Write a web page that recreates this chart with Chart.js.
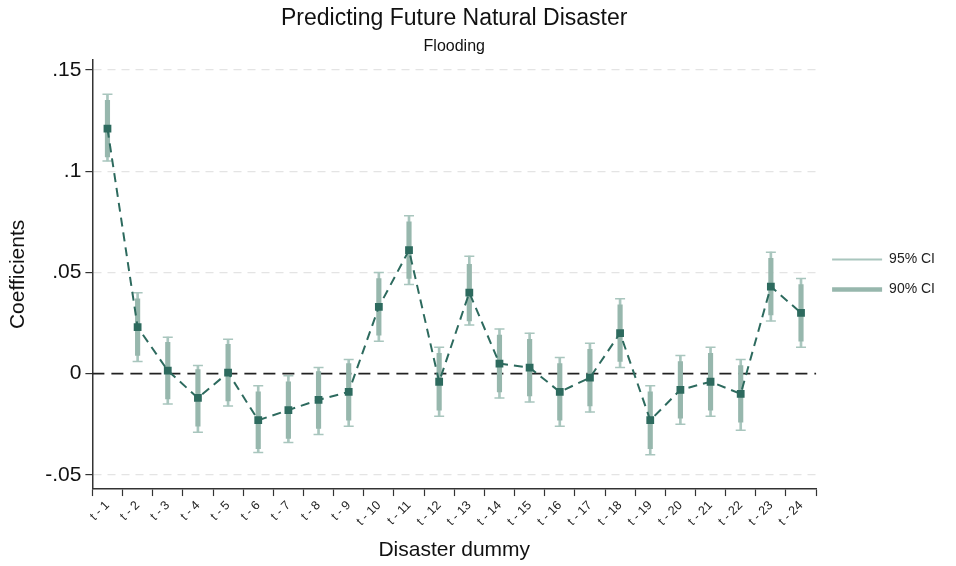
<!DOCTYPE html>
<html>
<head>
<meta charset="utf-8">
<script src="https://cdn.jsdelivr.net/npm/chart.js@4"></script>
<style>
  html, body { margin: 0; padding: 0; background: #fff; }
</style>
</head>
<body>
<canvas id="chart" width="956" height="566"></canvas>
<script>
const labels = ["t - 1", "t - 2", "t - 3", "t - 4", "t - 5", "t - 6", "t - 7", "t - 8",
  "t - 9", "t - 10", "t - 11", "t - 12", "t - 13", "t - 14", "t - 15", "t - 16",
  "t - 17", "t - 18", "t - 19", "t - 20", "t - 21", "t - 22", "t - 23", "t - 24"];

const coef = [0.121, 0.023, 0.0015, -0.012, 0.0005, -0.023, -0.018, -0.013, -0.009, 0.033, 0.061, -0.004,
  0.040, 0.005, 0.003, -0.009, -0.002, 0.020, -0.023, -0.008, -0.004, -0.010, 0.043, 0.030];

const ci95Low = [0.105, 0.006, -0.015, -0.029, -0.016, -0.039, -0.034, -0.030, -0.026, 0.016, 0.044, -0.021,
  0.024, -0.012, -0.014, -0.026, -0.019, 0.003, -0.040, -0.025, -0.021, -0.028, 0.026, 0.013];
const ci95High = [0.138, 0.040, 0.018, 0.004, 0.017, -0.006, -0.001, 0.003, 0.007, 0.050, 0.078, 0.013,
  0.058, 0.022, 0.020, 0.008, 0.015, 0.037, -0.006, 0.009, 0.013, 0.007, 0.060, 0.047];

const ci90Low = [0.107, 0.009, -0.0125, -0.026, -0.0135, -0.037, -0.032, -0.027, -0.023, 0.019, 0.047, -0.018,
  0.026, -0.009, -0.011, -0.023, -0.016, 0.006, -0.037, -0.022, -0.018, -0.024, 0.029, 0.016];
const ci90High = [0.135, 0.037, 0.0155, 0.002, 0.0145, -0.009, -0.004, 0.001, 0.005, 0.047, 0.075, 0.010,
  0.054, 0.019, 0.017, 0.005, 0.012, 0.034, -0.009, 0.006, 0.010, 0.004, 0.057, 0.044];

const yTicks = [-0.05, 0, 0.05, 0.1, 0.15];
const yTickLabels = ["-.05", "0", ".05", ".1", ".15"];
const refLine = 0;

const FONT = "'Liberation Sans', Arial, sans-serif";
const dark = "#2d6a5e";
const ci95Color = "#a9c6be";
const ci90Color = "#97b7ad";

// black dashed reference line at y = 0
const zeroLine = {
  id: "zeroLine",
  beforeDatasetsDraw(chart) {
    const { ctx, chartArea, scales } = chart;
    const y = scales.y.getPixelForValue(refLine);
    ctx.save();
    ctx.strokeStyle = "#222";
    ctx.lineWidth = 1.7;
    ctx.setLineDash([12, 7]);
    ctx.beginPath();
    ctx.moveTo(chartArea.left, y);
    ctx.lineTo(chartArea.right, y);
    ctx.stroke();
    ctx.restore();
  }
};

const ctx = document.getElementById("chart").getContext("2d");
new Chart(ctx, {
  data: {
    labels: labels,
    datasets: [
      {
        type: "line",
        label: "Coefficient",
        data: coef,
        borderColor: dark,
        backgroundColor: dark,
        borderWidth: 2,
        borderDash: [9, 6],
        pointStyle: "rect",
        pointRadius: 5.5,
        pointBorderWidth: 0,
        order: 0
      },
      {
        type: "bar",
        label: "90% CI",
        data: ci90Low.map((v, i) => [v, ci90High[i]]),
        backgroundColor: ci90Color,
        barThickness: 4.5,
        grouped: false,
        order: 1
      },
      {
        type: "bar",
        label: "95% CI",
        data: ci95Low.map((v, i) => [v, ci95High[i]]),
        backgroundColor: ci95Color,
        barThickness: 2,
        grouped: false,
        order: 2
      },
      {
        type: "line",
        label: "cap high",
        data: ci95High,
        showLine: false,
        pointStyle: "line",
        pointRadius: 5,
        pointBorderWidth: 1.5,
        borderColor: ci95Color,
        order: 2
      },
      {
        type: "line",
        label: "cap low",
        data: ci95Low,
        showLine: false,
        pointStyle: "line",
        pointRadius: 5,
        pointBorderWidth: 1.5,
        borderColor: ci95Color,
        order: 2
      }
    ]
  },
  options: {
    responsive: false,
    animation: false,
    layout: {
      padding: { left: 6, right: 11, top: 0, bottom: 3 }
    },
    plugins: {
      title: {
        display: true,
        fullSize: false,
        text: "Predicting Future Natural Disaster",
        color: "#111",
        font: { family: FONT, size: 23, weight: "normal" },
        padding: { top: 5, bottom: 4 }
      },
      subtitle: {
        display: true,
        fullSize: false,
        text: "Flooding",
        color: "#111",
        font: { family: FONT, size: 16 },
        padding: { top: 0, bottom: 4 }
      },
      legend: {
        position: "right",
        fullSize: false,
        labels: {
          usePointStyle: true,
          pointStyleWidth: 50,
          padding: 16,
          color: "#222",
          font: { family: FONT, size: 14 },
          generateLabels: () => [
            { text: "95% CI", strokeStyle: ci95Color, fillStyle: ci95Color, lineWidth: 2, pointStyle: "line", fontColor: "#222" },
            { text: "90% CI", strokeStyle: ci90Color, fillStyle: ci90Color, lineWidth: 4.5, pointStyle: "line", fontColor: "#222" }
          ]
        }
      },
      tooltip: { enabled: false }
    },
    scales: {
      x: {
        type: "category",
        offset: true,
        grid: {
          display: true,
          drawOnChartArea: false,
          drawTicks: true,
          tickLength: 7,
          tickColor: "#333",
          tickWidth: 1.2
        },
        border: { color: "#333", width: 1.5 },
        ticks: {
          color: "#222",
          font: { family: FONT, size: 12.5 },
          minRotation: 45,
          maxRotation: 45,
          autoSkip: false,
          padding: 2
        },
        title: {
          display: true,
          text: "Disaster dummy",
          color: "#111",
          font: { family: FONT, size: 21 },
          padding: { top: 7, bottom: 0 }
        }
      },
      y: {
        type: "linear",
        min: -0.057,
        max: 0.155,
        afterBuildTicks: (scale) => {
          scale.ticks = yTicks.map((v) => ({ value: v }));
        },
        grid: {
          color: (c) => (c.tick && c.tick.value === refLine ? "rgba(0,0,0,0)" : "#e4e4e4"),
          lineWidth: 1.2,
          drawTicks: true,
          tickLength: 7,
          tickColor: "#333",
          tickWidth: 1.2
        },
        border: { color: "#333", width: 1.5, dash: [8, 6] },
        ticks: {
          color: "#111",
          font: { family: FONT, size: 21 },
          padding: 4,
          callback: (v) => {
            const i = yTicks.indexOf(v);
            return i >= 0 ? yTickLabels[i] : "";
          }
        },
        title: {
          display: true,
          text: "Coefficients",
          color: "#111",
          font: { family: FONT, size: 21 },
          padding: { top: 0, bottom: 10 }
        }
      }
    }
  },
  plugins: [zeroLine]
});
</script>
</body>
</html>
